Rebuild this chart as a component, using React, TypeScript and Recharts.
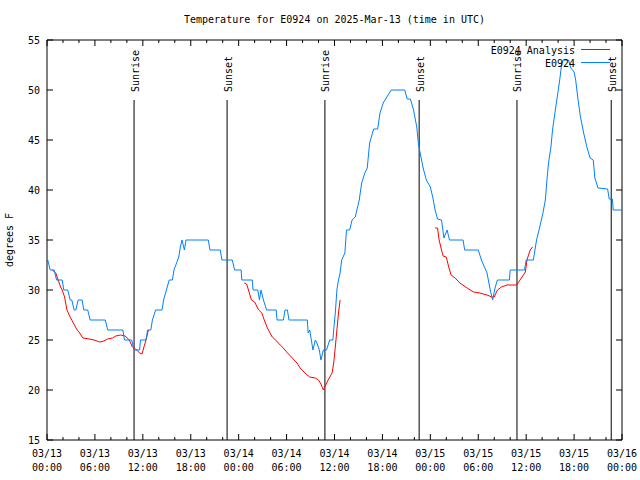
import { LineChart, Line, XAxis, YAxis, ReferenceLine, Legend } from "recharts";

const FONT = "'DejaVu Sans Mono', monospace";

// hours since 2025-03-13 00:00 UTC
const obsHours = [
  0.1, 0.4, 0.9, 1.2, 1.9, 2.1, 2.6, 2.9, 3.1, 3.4, 3.6, 3.9, 4.4, 4.6, 5.1, 5.4, 7.3, 7.6, 9.5, 9.7,
  10.6, 10.9, 11.6, 11.7, 12.4, 12.6, 13.0, 13.2, 13.6, 14.4, 14.6, 15.3, 15.7, 15.9, 16.5, 16.7, 16.9,
  17.2, 17.4, 20.2, 20.4, 21.7, 21.9, 23.2, 23.5, 24.3, 24.4, 25.7, 25.8, 26.4, 26.6, 26.8, 27.1, 27.5,
  28.7, 28.8, 29.6, 29.8, 30.1, 30.3, 32.6, 32.7, 32.9, 33.1, 33.3, 33.6, 33.8, 34.1, 34.3, 34.6, 35.0,
  35.4, 35.8, 35.9, 36.1, 36.3, 36.5, 36.7, 36.9, 37.3, 37.5, 37.9, 38.2, 38.6, 38.8, 39.1, 39.4, 39.8,
  40.1, 40.4, 40.9, 41.4, 41.7, 42.1, 42.4, 43.1, 44.8, 45.1, 45.5, 45.9, 46.3, 46.5, 46.7, 47.1, 47.5,
  48.0, 48.3, 48.6, 48.9, 49.4, 49.7, 50.1, 50.4, 52.1, 52.3, 54.0, 54.4, 55.1, 55.5, 55.8, 56.1, 56.4,
  57.9, 58.0, 59.8, 60.0, 60.9, 61.3, 61.7, 62.1, 62.4, 62.6, 62.8, 63.1, 63.3, 63.6, 63.8, 64.2, 64.4,
  64.6, 65.3, 65.6, 66.0, 66.2, 66.5, 66.8, 67.2, 67.6, 68.0, 68.4, 68.6, 69.0, 70.2, 70.4, 70.8, 70.9,
  72.0,
];
const obsTemps = [
  33, 32, 32, 31, 31, 30, 30, 29, 29, 28, 28, 29, 29, 28, 28, 27, 27, 26, 26, 25,
  25, 24, 24, 25, 25, 26, 26, 27, 28, 28, 29, 31, 31, 32, 33.3, 34.3, 35,
  34, 35, 35, 34, 34, 33, 33, 32, 32, 31, 31, 30, 30, 29, 30, 29, 28,
  28, 27, 27, 28, 28, 27, 27, 25.7, 26, 25, 24, 25, 24.7, 24, 23, 24, 24,
  25, 25, 26, 27.7, 30, 31, 31.7, 33, 33.7, 36, 36, 37, 37.3, 38, 39, 40.7, 41.7,
  42.2, 44.7, 46.1, 46.1, 47.7, 48.7, 49.1, 50, 50, 49.1, 49.1, 48, 46.3, 44.7, 43.8, 42.2, 41,
  40.3, 39.3, 38, 37.1, 37, 35.2, 36, 35, 35, 34, 34, 33, 31.7, 30, 29, 30.2, 31,
  31, 32, 32, 33, 33, 35, 36.3, 37.7, 39, 41, 42.7, 44.3, 46, 47.7, 48.8, 51, 52.3,
  53, 53, 52.2, 51.8, 51, 49, 47.3, 45.7, 44.3, 43.2, 43, 41.2, 40.2, 40.1, 39.1, 39.1, 38,
  38,
];

const anaHours = [
  0.66, 1.1, 1.4, 1.7, 1.9, 2.2, 2.5, 2.9, 3.3, 3.7, 4.0, 4.5, 5.3, 5.9, 6.6, 7.1, 7.6, 8.2, 8.6, 9.2,
  9.8, 10.3, 10.7, 11.1, 11.6, 11.9, 12.1, 12.4, 12.6, 12.7,
  18,
  24.7, 25.0, 25.3, 25.6, 26.0, 26.5, 26.9, 27.2, 27.6, 28.2, 28.5, 29.2, 29.6, 30.0, 30.6, 31.3, 31.7,
  32.3, 32.9, 33.6, 34.0, 34.3, 34.6, 34.9, 35.2, 35.7, 35.9, 36.1, 36.3, 36.5, 36.7,
  42,
  48.6, 48.9, 49.1, 49.4, 49.6, 50.0, 50.3, 50.6, 51.1, 51.7, 52.6, 53.4, 54.2, 55.1, 55.7, 56.0, 56.4,
  56.9, 57.6, 58.8, 59.4, 59.9, 60.1, 60.5, 60.8,
];
const anaTemps = [
  32, 31.7, 31, 30.3, 30, 29.3, 28, 27.3, 26.7, 26.1, 25.8, 25.2, 25.1, 25, 24.8, 24.9, 25.1, 25.2, 25.4, 25.5,
  25.4, 25, 24.3, 24.1, 23.7, 23.6, 24.2, 25, 25.7, 26,
  null,
  30.7, 30.6, 29.8, 29, 28.8, 28, 27.7, 27, 26.2, 25.3, 25.1, 24.5, 24.2, 23.8, 23.3, 22.7, 22.2,
  21.7, 21.3, 21.2, 21, 20.6, 20, 20.5, 21, 21.7, 22.7, 24.3, 26, 27.7, 29,
  null,
  36.2, 36.2, 35, 34, 33.4, 33.3, 32.3, 31.5, 31.2, 30.7, 30.2, 29.8, 29.7, 29.5, 29.3, 29.3, 30,
  30.3, 30.5, 30.5, 31.2, 31.8, 33, 34, 34.3,
];

const sunHours = [10.9, 22.55, 34.8, 46.6, 58.85, 70.65];
const sunLabels = ["Sunrise", "Sunset", "Sunrise", "Sunset", "Sunrise", "Sunset"];

const xMajorTicks = [0, 6, 12, 18, 24, 30, 36, 42, 48, 54, 60, 66, 72];
const xTickDates = ["03/13", "03/13", "03/13", "03/13", "03/14", "03/14", "03/14", "03/14", "03/15", "03/15", "03/15", "03/15", "03/16"];
const xTickTimes = ["00:00", "06:00", "12:00", "18:00", "00:00", "06:00", "12:00", "18:00", "00:00", "06:00", "12:00", "18:00", "00:00"];
const yTicks = [15, 20, 25, 30, 35, 40, 45, 50, 55];

const obsData = obsHours.map((h, i) => ({ h, t: obsTemps[i] }));
const anaData = anaHours.map((h, i) => ({ h, t: anaTemps[i] }));
const xTicks: number[] = [];
for (let h = 0; h <= 72; h += 2) xTicks.push(h);

const TOP = 40;
const BOTTOM = 440;
const LEFT = 47;
const RIGHT = 622;

function XTick(props: any) {
  const { x, payload } = props;
  const idx = xMajorTicks.indexOf(payload.value);
  const len = idx >= 0 ? 6 : 3;
  return (
    <g>
      <line x1={x} x2={x} y1={BOTTOM} y2={BOTTOM - len} stroke="#000" />
      <line x1={x} x2={x} y1={TOP} y2={TOP + len} stroke="#000" />
      {idx >= 0 && (
        <text x={x} y={453} textAnchor="middle" dominantBaseline="central" fontFamily={FONT} fontSize={10} fill="#000">
          {xTickDates[idx]}
        </text>
      )}
      {idx >= 0 && (
        <text x={x} y={467} textAnchor="middle" dominantBaseline="central" fontFamily={FONT} fontSize={10} fill="#000">
          {xTickTimes[idx]}
        </text>
      )}
    </g>
  );
}

function YTick(props: any) {
  const { y, payload } = props;
  return (
    <g>
      <line x1={LEFT} x2={LEFT + 6} y1={y} y2={y} stroke="#000" />
      <line x1={RIGHT} x2={RIGHT - 6} y1={y} y2={y} stroke="#000" />
      <text x={40} y={y} textAnchor="end" dominantBaseline="central" fontFamily={FONT} fontSize={10} fill="#000">
        {payload.value}
      </text>
    </g>
  );
}

function SunLabel(props: any) {
  const x = props.viewBox?.x ?? 0;
  return (
    <text
      x={x + 1}
      y={92}
      transform={`rotate(-90, ${x + 1}, 92)`}
      textAnchor="start"
      dominantBaseline="central"
      fontFamily={FONT}
      fontSize={10}
      fill="#000"
    >
      {props.text}
    </text>
  );
}

const renderLegend = () => (
  <svg width={140} height={28}>
    <text x={95} y={7.5} textAnchor="end" dominantBaseline="central" fontFamily={FONT} fontSize={10} fill="#000">
      E0924 Analysis
    </text>
    <line x1={101} x2={130} y1={6.5} y2={6.5} stroke="#ff0000" />
    <text x={95} y={20.5} textAnchor="end" dominantBaseline="central" fontFamily={FONT} fontSize={10} fill="#000">
      E0924
    </text>
    <line x1={101} x2={130} y1={19.5} y2={19.5} stroke="#0080ff" />
  </svg>
);

export default function App() {
  return (
    <div style={{ position: "absolute", left: 0, top: 0, width: 640, height: 480, background: "#fff" }}>
      <div
        style={{
          position: "absolute",
          left: LEFT,
          width: RIGHT - LEFT,
          top: 14,
          textAlign: "center",
          fontFamily: FONT,
          fontSize: 10,
          lineHeight: "12px",
        }}
      >
        Temperature for E0924 on 2025-Mar-13 (time in UTC)
      </div>
      <div
        style={{
          position: "absolute",
          left: 10 - 40,
          top: 240 - 6,
          width: 80,
          textAlign: "center",
          fontFamily: FONT,
          fontSize: 10,
          lineHeight: "12px",
          transform: "rotate(-90deg)",
        }}
      >
        degrees F
      </div>
      <LineChart width={640} height={480} margin={{ top: TOP, right: 640 - RIGHT, bottom: 0, left: 0 }}>
        <XAxis
          dataKey="h"
          type="number"
          domain={[0, 72]}
          ticks={xTicks}
          interval={0}
          allowDataOverflow
          tickLine={false}
          tickSize={0}
          height={40}
          tick={<XTick />}
          axisLine={{ stroke: "#000" }}
        />
        <YAxis
          type="number"
          domain={[15, 55]}
          ticks={yTicks}
          interval={0}
          allowDataOverflow
          width={LEFT}
          tickLine={false}
          tickSize={0}
          tick={<YTick />}
          axisLine={{ stroke: "#000" }}
        />
        <ReferenceLine y={55} stroke="#000" />
        <ReferenceLine x={72} stroke="#000" />
        {sunHours.map((h, i) => (
          <ReferenceLine
            key={i}
            segment={[
              { x: h, y: 15 },
              { x: h, y: 49 },
            ]}
            stroke="#000"
            label={<SunLabel text={sunLabels[i]} />}
          />
        ))}
        <Legend
          layout="horizontal"
          verticalAlign="middle"
          align="center"
          content={renderLegend}
          wrapperStyle={{ top: 43, left: 480, width: 140, height: 28 }}
        />
        <Line
          data={anaData}
          dataKey="t"
          name="E0924 Analysis"
          type="linear"
          stroke="#ff0000"
          strokeWidth={1}
          dot={false}
          connectNulls={false}
          isAnimationActive={false}
        />
        <Line
          data={obsData}
          dataKey="t"
          name="E0924"
          type="linear"
          stroke="#0080ff"
          strokeWidth={1}
          dot={false}
          isAnimationActive={false}
        />
      </LineChart>
    </div>
  );
}
